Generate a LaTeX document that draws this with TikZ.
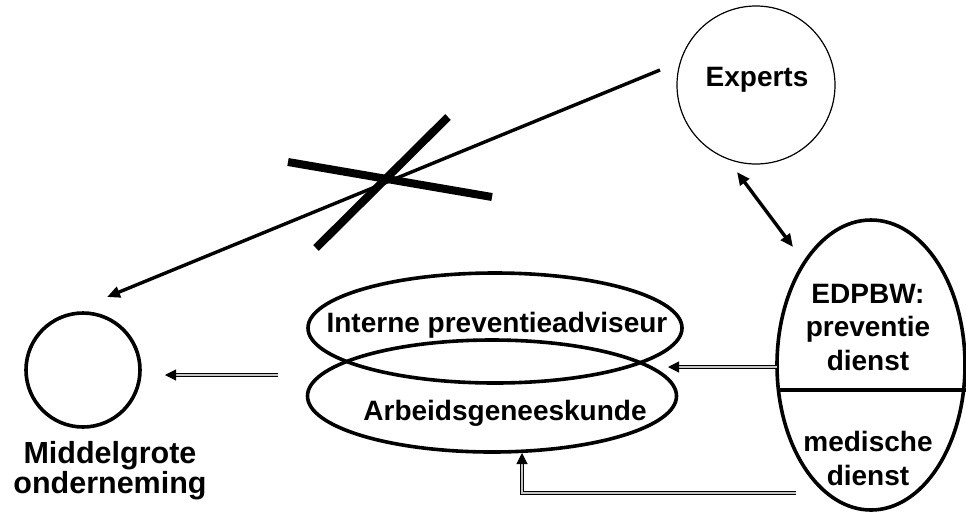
\documentclass[tikz,border=0pt]{standalone}
\usepackage{fontspec}
\setmainfont{Liberation Sans}
\usetikzlibrary{arrows.meta,shapes.geometric}
\begin{document}
\begin{tikzpicture}[x=1pt,y=-1pt,
  lbl/.style={font=\fontsize{28}{33.5}\selectfont\bfseries, inner sep=0pt, align=center},
  thickshape/.style={draw, line width=3.6pt, inner sep=0pt},
  tip/.style={-{Triangle[length=13pt,width=11pt]}},
  dbl/.style={draw, line width=1.1pt, double=gray!45, double distance=2.4pt,
     -{Triangle[length=11pt,width=11pt]}},
  crossbar/.style={line width=8pt, line cap=butt}]
\useasboundingbox (0,0) rectangle (966,512);
% shapes
\node[circle, draw, line width=1.2pt, minimum size=158pt, inner sep=0pt] (exp) at (756,85) {};
\node[lbl, anchor=base] (explbl) at (757,86) {Experts};
\node[circle, thickshape, minimum size=114pt] (mid) at (83,370) {};
\node[lbl, font=\fontsize{30.5}{29.5}\selectfont\bfseries, anchor=base] (midlbl) at (110,493) {Middelgrote\\onderneming};
\node[ellipse, thickshape, minimum width=374pt, minimum height=110pt] (e1) at (495,328) {};
\node[ellipse, thickshape, minimum width=369pt, minimum height=112pt] (e2) at (492,396) {};
\node[lbl, anchor=base] (e1lbl) at (497,332) {Interne preventieadviseur};
\node[lbl, anchor=base] (e2lbl) at (505,420) {Arbeidsgeneeskunde};
\node[ellipse, thickshape, minimum width=188pt, minimum height=290pt] (edp) at (871,365) {};
\node[lbl, anchor=base] (edptop) at (868,370) {EDPBW:\\preventie\\dienst};
\node[lbl, anchor=base] (edpbot) at (868,485) {medische\\dienst};
\coordinate (divL) at (777,390);
\coordinate (divR) at (966,390);
\draw[line width=3.6pt] (divL) -- (divR);
% long arrow with cross
\coordinate (ls) at (660,70);
\coordinate (le) at (107,297);
\draw[line width=3.4pt, tip] (ls) -- (le);
\coordinate (c1a) at (288,162);
\coordinate (c1b) at (492,197);
\coordinate (c2a) at (448,117);
\coordinate (c2b) at (316,248);
\draw[crossbar] (c1a) -- (c1b);
\draw[crossbar] (c2a) -- (c2b);
% experts <-> EDPBW
\coordinate (xa) at (737,172);
\coordinate (xb) at (793,247);
\draw[line width=3.4pt, {Triangle[length=13pt,width=11pt]}-{Triangle[length=13pt,width=11pt]}] (xa) -- (xb);
% double line arrows
\coordinate (d1s) at (777,367);
\coordinate (d1e) at (668,367);
\draw[dbl] (d1s) -- (d1e);
\coordinate (d2s) at (796,493);
\coordinate (d2c) at (522,493);
\coordinate (d2e) at (522,453);
\draw[dbl] (d2s) -- (d2c) -- (d2e);
\coordinate (d3s) at (278,375);
\coordinate (d3e) at (165,375);
\draw[dbl] (d3s) -- (d3e);
\end{tikzpicture}
\end{document}
